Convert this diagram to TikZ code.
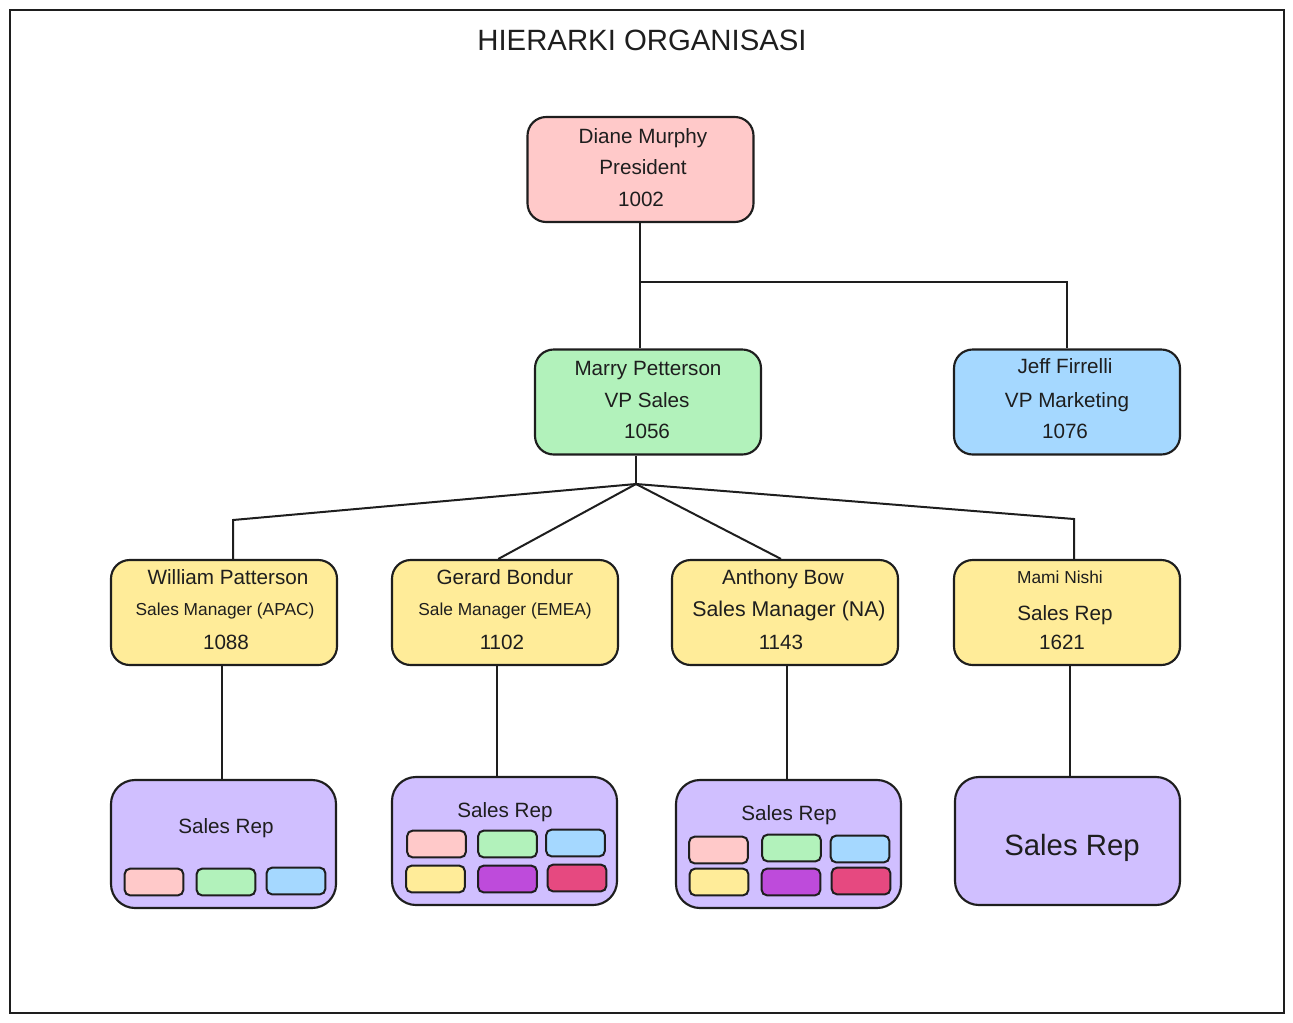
\documentclass[tikz,border=0pt]{standalone}
\usepackage{fontspec}
\setmainfont{Liberation Sans}
\definecolor{ink}{HTML}{1E1E1E}
\definecolor{cpink}{HTML}{FFC9C9}
\definecolor{cgreen}{HTML}{B2F2BB}
\definecolor{cblue}{HTML}{A5D8FF}
\definecolor{cyellow}{HTML}{FFEC99}
\definecolor{cviolet}{HTML}{D0BFFF}
\definecolor{cgrape}{HTML}{BE4BDB}
\definecolor{cred}{HTML}{E64980}
\tikzset{
  person/.style={draw=ink, line width=1.6pt, rounded corners=14pt, minimum width=169.5pt, minimum height=78.75pt, inner sep=0pt},
  group/.style={draw=ink, line width=1.6pt, rounded corners=18pt, fill=cviolet, minimum width=168.75pt, minimum height=96pt, inner sep=0pt},
  sb/.style={draw=ink, line width=1.5pt, rounded corners=4pt, minimum width=44pt, minimum height=20pt, inner sep=0pt},
  lbl/.style={text=ink, inner sep=0pt, anchor=base},
  big/.style={font=\fontsize{15.5}{18}\selectfont},
  small/.style={font=\fontsize{13}{15}\selectfont},
  wire/.style={draw=ink, line width=1.5pt},
}
\begin{document}
\begin{tikzpicture}[x=0.75pt,y=-0.75pt]
\useasboundingbox (0,0) rectangle (1293,1022);
\draw[ink, line width=1.5pt] (10,10) rectangle (1284,1013);
\node[lbl, font=\fontsize{22}{25}\selectfont] (title) at (642,50) {HIERARKI ORGANISASI};

% level 1
\node[person, fill=cpink] (pres) at (640.5,169.5) {};
\node[lbl,big] (t1a) at (643,143) {Diane Murphy};
\node[lbl,big] (t1b) at (643,174) {President};
\node[lbl,big] (t1c) at (641,206) {1002};

% level 2
\node[person, fill=cgreen] (vps) at (648,402) {};
\node[lbl,big] (t2a) at (648,375) {Marry Petterson};
\node[lbl,big] (t2b) at (647,407) {VP Sales};
\node[lbl,big] (t2c) at (647,438) {1056};

\node[person, fill=cblue] (jeff) at (1067,402) {};
\node[lbl,big] (t3a) at (1065,373) {Jeff Firrelli};
\node[lbl,big] (t3b) at (1067,407) {VP Marketing};
\node[lbl,big] (t3c) at (1065,438) {1076};

% level 3
\node[person, fill=cyellow] (wp) at (224,612.5) {};
\node[lbl,big] (t4a) at (228,584) {William Patterson};
\node[lbl,small] (t4b) at (225,615) {Sales Manager (APAC)};
\node[lbl,big] (t4c) at (226,649) {1088};

\node[person, fill=cyellow] (gb) at (505,612.5) {};
\node[lbl,big] (t5a) at (505,584) {Gerard Bondur};
\node[lbl,small] (t5b) at (505,615) {Sale Manager (EMEA)};
\node[lbl,big] (t5c) at (502,649) {1102};

\node[person, fill=cyellow] (ab) at (785,612.5) {};
\node[lbl,big] (t6a) at (783,584) {Anthony Bow};
\node[lbl,font=\fontsize{16}{18}\selectfont] (t6b) at (789,616) {Sales Manager (NA)};
\node[lbl,big] (t6c) at (781,649) {1143};

\node[person, fill=cyellow] (mn) at (1067,612.5) {};
\node[lbl,small] (t7a) at (1060,583) {Mami Nishi};
\node[lbl,big] (t7b) at (1065,620) {Sales Rep};
\node[lbl,big] (t7c) at (1062,649) {1621};

% level 4
\node[group] (sr1) at (223.5,844) {};
\node[lbl,big] (t8) at (226,833) {Sales Rep};
\node[sb, fill=cpink]  (s1a) at (154,882) {};
\node[sb, fill=cgreen] (s1b) at (226,882) {};
\node[sb, fill=cblue]  (s1c) at (296,881) {};

\node[group] (sr2) at (504.5,841) {};
\node[lbl,big] (t9) at (505,817) {Sales Rep};
\node[sb, fill=cpink]   (s2a) at (436.5,844) {};
\node[sb, fill=cgreen]  (s2b) at (507.5,844) {};
\node[sb, fill=cblue]   (s2c) at (575.5,843) {};
\node[sb, fill=cyellow] (s2d) at (435.5,879) {};
\node[sb, fill=cgrape]  (s2e) at (507.5,879) {};
\node[sb, fill=cred]    (s2f) at (577,878) {};

\node[group] (sr3) at (788.5,844) {};
\node[lbl,big] (t10) at (789,820) {Sales Rep};
\node[sb, fill=cpink]   (s3a) at (718.5,850) {};
\node[sb, fill=cgreen]  (s3b) at (791.5,848) {};
\node[sb, fill=cblue]   (s3c) at (860,849) {};
\node[sb, fill=cyellow] (s3d) at (719,882) {};
\node[sb, fill=cgrape]  (s3e) at (791,882) {};
\node[sb, fill=cred]    (s3f) at (861,881) {};

\node[group] (sr4) at (1067.5,841) {};
\node[lbl, font=\fontsize{22}{25}\selectfont] (t11) at (1072,855) {Sales Rep};

% connectors
\coordinate (j1) at (640,282);
\coordinate (hub) at (636,484);
\coordinate (cl) at (233,520);
\coordinate (cr) at (1074,519);
\draw[wire] (pres.south -| j1) -- (vps.north -| j1);
\draw[wire] (j1) -| (jeff.north);
\draw[wire] (vps.south -| hub) -- (hub);
\draw[wire] (hub) -- (cl) -- (wp.north -| cl);
\draw[wire] (hub) -- ([xshift=-5pt]gb.north);
\draw[wire] (hub) -- ([xshift=-3pt]ab.north);
\draw[wire] (hub) -- (cr) -- (mn.north -| cr);
\draw[wire] ([xshift=-1.5pt]wp.south) -- ([xshift=-1.5pt]wp.south |- sr1.north);
\draw[wire] ([xshift=-6pt]gb.south) -- ([xshift=-6pt]gb.south |- sr2.north);
\draw[wire] ([xshift=1.5pt]ab.south) -- ([xshift=1.5pt]ab.south |- sr3.north);
\draw[wire] ([xshift=2.5pt]mn.south) -- ([xshift=2.5pt]mn.south |- sr4.north);
\end{tikzpicture}
\end{document}
